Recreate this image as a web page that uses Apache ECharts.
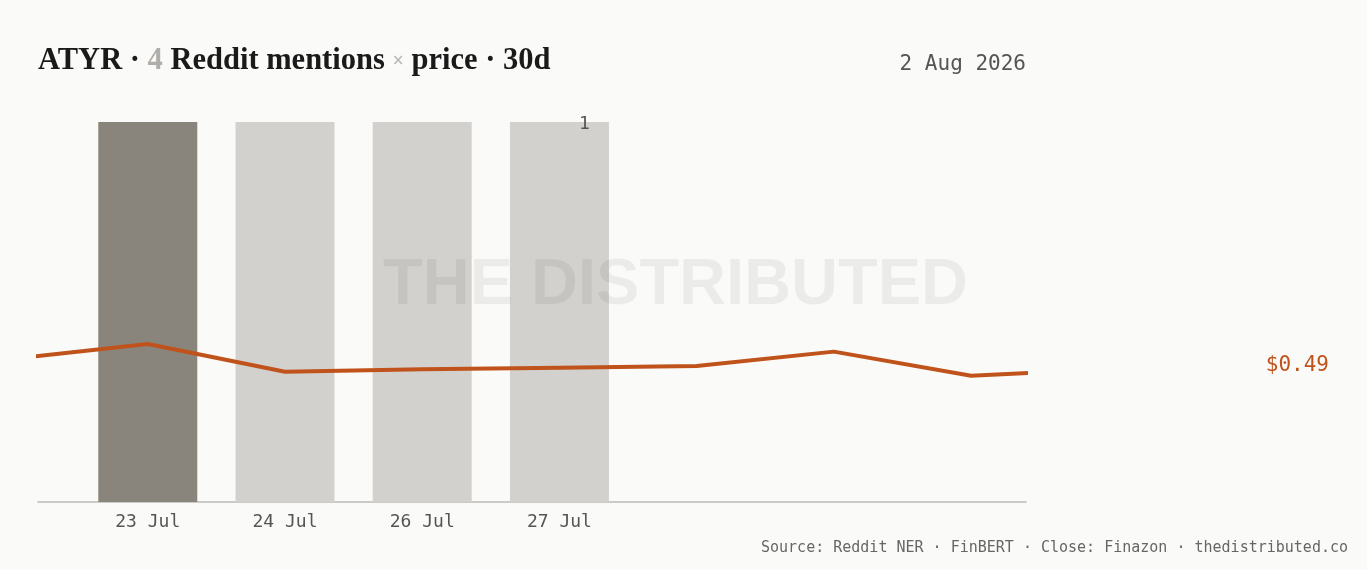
<!DOCTYPE html>
<html>
<head>
<meta charset="utf-8">
<script src="https://cdn.jsdelivr.net/npm/echarts@6/dist/echarts.min.js"></script>
<style>
  html, body { margin: 0; padding: 0; background: #fafaf8; }
  #chart { width: 1367px; height: 570px; }
</style>
</head>
<body>
<div id="chart"></div>
<script>
// mention days (bars) and daily closes (line), by day index
const mentionLabels = ["23 Jul", "24 Jul", "26 Jul", "27 Jul"];
const mentionCounts = [1, 1, 1, 1];
const priceIndex = [-1, 0, 1, 2, 3, 4, 5, 6, 7];
const priceCloses = [0.527, 0.582, 0.480, 0.489, 0.495, 0.501, 0.554, 0.465, 0.49];
const lastPrice = "$0.49";
const asOf = "2 Aug 2026";

const mono = "'DejaVu Sans Mono', 'Liberation Mono', monospace";
const serif = "'Liberation Serif', serif";
const orange = "#c0531b";

const chart = echarts.init(document.getElementById("chart"));

const barData = mentionCounts.map((v, i) => ({
  value: [i, v],
  itemStyle: { color: i === 0 ? "#8a857c" : "#d3d1cd" },
  label: i === mentionCounts.length - 1
    ? { show: true, position: "top", offset: [25, 16], color: "#555", fontFamily: mono, fontSize: 18, formatter: String(v) }
    : { show: false }
}));

const option = {
  backgroundColor: "#fafaf8",
  animation: false,
  title: {
    left: 38,
    top: 46,
    padding: 0,
    text: "{b|ATYR · }{g|4}{b| Reddit mentions }{x|×}{b| price · 30d}",
    textStyle: {
      rich: {
        b: { fontFamily: serif, fontWeight: "bold", fontSize: 30.5, color: "#1a1a1a" },
        g: { fontFamily: serif, fontWeight: "bold", fontSize: 30.5, color: "#b0aeaa" },
        x: { fontFamily: serif, fontSize: 20, color: "#b8b6b2" }
      }
    }
  },
  grid: { left: 38, right: 341, top: 122, bottom: 68 },
  xAxis: {
    type: "value",
    min: -0.8,
    max: 6.4,
    splitLine: { show: false },
    axisTick: { show: false },
    axisLine: { show: true, onZero: false, lineStyle: { color: "#bdbbb7", width: 1.5 } },
    axisLabel: {
      customValues: mentionLabels.map((d, i) => i),
      formatter: v => mentionLabels[v] || "",
      color: "#555",
      fontFamily: mono,
      fontSize: 18,
      margin: 11
    }
  },
  yAxis: [
    { type: "value", min: 0, max: 1, show: false },
    { type: "value", min: 0, max: 1.4, show: false }
  ],
  graphic: [
    {
      type: "text",
      left: 383,
      top: 254,
      z: 100,
      silent: true,
      style: {
        text: "THE DISTRIBUTED",
        font: "bold 65px 'Liberation Sans', Arial, sans-serif",
        fill: "rgba(0,0,0,0.06)"
      }
    },
    {
      type: "text",
      right: 341,
      top: 54,
      style: { text: asOf, font: "21px " + mono, fill: "#555" }
    },
    {
      type: "text",
      right: 38,
      top: 355,
      style: { text: lastPrice, font: "21px " + mono, fill: orange }
    },
    {
      type: "text",
      right: 19,
      top: 541,
      style: {
        text: "Source: Reddit NER · FinBERT · Close: Finazon · thedistributed.co",
        font: "15px " + mono,
        fill: "#666"
      }
    }
  ],
  series: [
    {
      type: "bar",
      yAxisIndex: 0,
      barWidth: 99,
      data: barData
    },
    {
      type: "line",
      yAxisIndex: 1,
      data: priceIndex.map((d, i) => [d, priceCloses[i]]),
      showSymbol: false,
      clip: true,
      lineStyle: { color: orange, width: 4 },
      z: 5
    }
  ]
};

chart.setOption(option);
</script>
</body>
</html>
